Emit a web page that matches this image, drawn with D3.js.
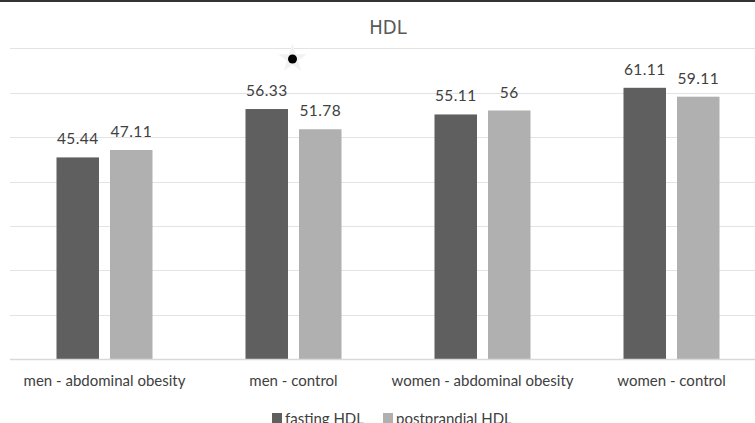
<!DOCTYPE html>
<html><head><meta charset="utf-8">
<script src="https://cdn.jsdelivr.net/npm/d3@7"></script>
<style>body{margin:0;background:#fff}svg{display:block}</style>
</head><body>
<script>
const categories = ["men - abdominal obesity","men - control","women - abdominal obesity","women - control"];
const seriesNames = ["fasting HDL","postprandial HDL"];
const fasting = [45.44, 56.33, 55.11, 61.11];
const postprandial = [47.11, 51.78, 56, 59.11];
const fastingLabels = ["45.44","56.33","55.11","61.11"];
const postLabels = ["47.11","51.78","56","59.11"];
const yTicks = [0,10,20,30,40,50,60,70];
const markerCategory = ["men - control"];
const colors = ["#5f5f5f","#b0b0b0"];

const W=755,H=423;
const svg=d3.select("body").append("svg").attr("width",W).attr("height",H);
const font="Lato, 'Open Sans', sans-serif";

const x=d3.scaleBand().domain(categories).range([10,766]);
const bw=x.bandwidth();
const x1=d3.scaleBand().domain(seriesNames).range([bw/2-48,bw/2+48]).paddingInner(0.206).paddingOuter(0);
const y=d3.scaleLinear().domain([0,70]).range([359.3,48.3]);

// top border
svg.append("rect").attr("x",0).attr("y",0).attr("width",W).attr("height",2).attr("fill","#333");

// grid
svg.append("g").selectAll("line").data(yTicks.slice(1)).join("line")
 .attr("x1",10).attr("x2",W).attr("y1",d=>Math.round(y(d))+0.5).attr("y2",d=>Math.round(y(d))+0.5)
 .attr("stroke","#e3e3e3").attr("stroke-width",1.2);

svg.append("text").attr("x",388).attr("y",34).attr("text-anchor","middle")
 .attr("font-family","'DejaVu Sans Condensed', 'DejaVu Sans', sans-serif").attr("font-size",20).attr("fill","#595959").text("HDL");

const data=categories.map((c,i)=>({c,vals:[
 {s:seriesNames[0],v:fasting[i],l:fastingLabels[i]},
 {s:seriesNames[1],v:postprandial[i],l:postLabels[i]}]}));

const g=svg.append("g").selectAll("g").data(data).join("g").attr("transform",d=>`translate(${x(d.c)},0)`);
g.selectAll("rect").data(d=>d.vals).join("rect")
 .attr("x",d=>x1(d.s)).attr("width",x1.bandwidth())
 .attr("y",d=>y(d.v)).attr("height",d=>y(0)-y(d.v))
 .attr("fill",(d,i)=>colors[i]);
g.selectAll("text").data(d=>d.vals).join("text")
 .attr("x",d=>x1(d.s)+x1.bandwidth()/2).attr("y",d=>y(d.v)-13)
 .attr("text-anchor","middle").attr("font-family",font).attr("font-size",15.5).attr("letter-spacing",0.4).attr("fill","#404040")
 .text(d=>d.l);

// baseline
svg.append("line").attr("x1",10).attr("x2",W).attr("y1",359.5).attr("y2",359.5).attr("stroke","#d9d9d9").attr("stroke-width",1.5);

// x axis labels
svg.append("g").selectAll("text").data(categories).join("text")
 .attr("x",d=>x(d)+x.bandwidth()/2).attr("y",386)
 .attr("text-anchor","middle").attr("font-family",font).attr("font-size",15).attr("fill","#404040").text(d=>d);

// marker
const mk=svg.append("g");
markerCategory.forEach(c=>{
 const cx=x(c)+x.bandwidth()/2-1, cy=59;
 mk.append("path").attr("d",d3.symbol(d3.symbolStar,260)()).attr("transform",`translate(${cx},${cy})`).attr("fill","#f2f2f2");
 mk.append("circle").attr("cx",cx).attr("cy",cy).attr("r",4.5).attr("fill","#000");
});

// legend
const leg=svg.append("g");
const lx=[272,383];
seriesNames.forEach((s,i)=>{
 leg.append("rect").attr("x",lx[i]).attr("y",413).attr("width",10).attr("height",10).attr("fill",colors[i]);
 leg.append("text").attr("x",lx[i]+13).attr("y",424).attr("font-family",font).attr("font-size",15).attr("fill","#404040").text(s);
});
</script>
</body></html>
